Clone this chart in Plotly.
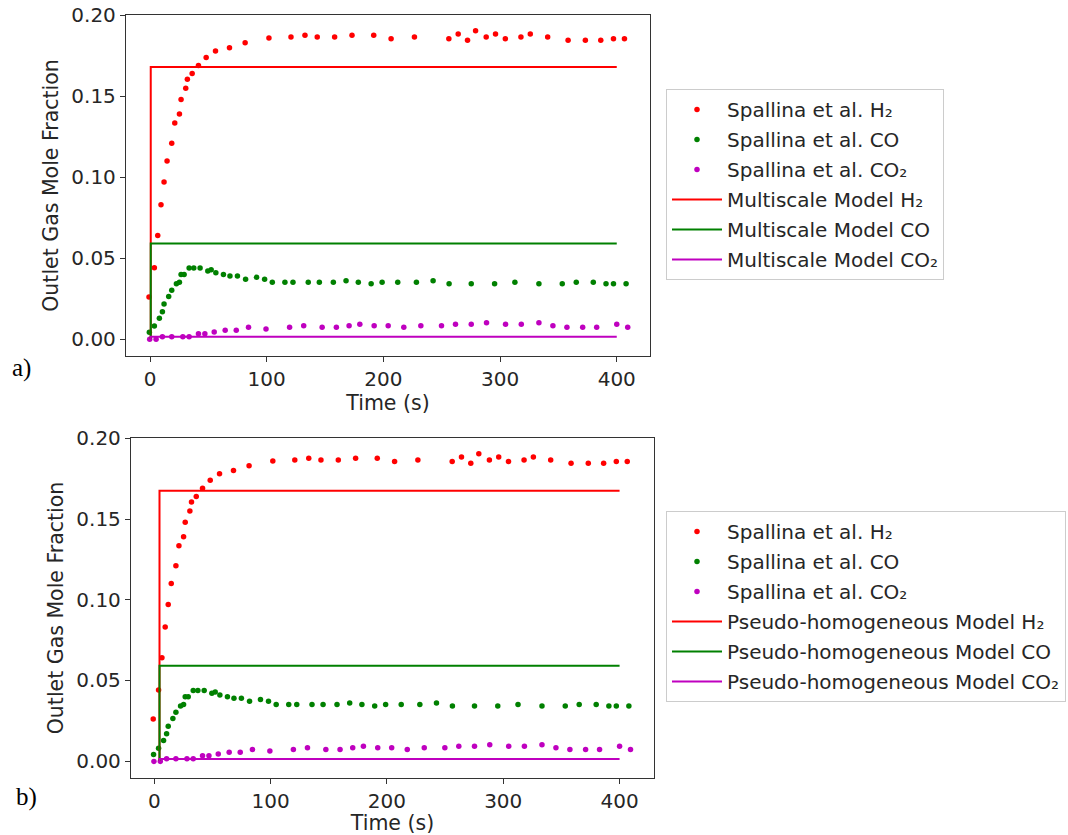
import plotly.graph_objects as go

W, H = 1068, 835

# ---------------- data ----------------
h2_time = [-0.9, 3.7, 6.6, 9.4, 12.0, 14.6, 18.6, 21.2, 25.2, 26.6, 30.6, 32.0, 36.1, 41.5,
           48.1, 56.1, 68.1, 81.5, 101.9, 120.8, 132.8, 143.3, 158.2, 173.1, 191.7, 206.6,
           226.6, 256.1, 264.1, 272.1, 279.0, 288.1, 296.1, 304.5, 317.9, 325.9, 340.8,
           358.3, 373.1, 386.3, 397.2, 406.6]
h2_exp = [0.026, 0.044, 0.064, 0.083, 0.097, 0.110, 0.121, 0.1335, 0.139, 0.148, 0.155,
          0.1605, 0.164, 0.169, 0.174, 0.178, 0.180, 0.183, 0.186, 0.1866, 0.1877, 0.1866,
          0.1866, 0.1877, 0.1877, 0.1856, 0.1866, 0.1856, 0.1885, 0.1846, 0.1905, 0.1866,
          0.1885, 0.1856, 0.1866, 0.1885, 0.1866, 0.1846, 0.1846, 0.1846, 0.1856, 0.1856]

co_time = [-0.6, 3.7, 8.0, 10.6, 12.0, 16.0, 18.6, 22.6, 25.2, 26.6, 29.2, 33.5, 37.5, 42.9,
           49.5, 52.4, 56.4, 62.9, 68.5, 74.9, 81.9, 91.3, 98.2, 104.8, 115.6, 122.5, 135.6,
           145.1, 157.1, 168.0, 178.5, 189.5, 198.9, 212.3, 228.3, 242.6, 256.3, 275.3,
           295.3, 312.7, 333.3, 353.3, 365.3, 379.9, 390.8, 397.2, 408.0]
co_exp = [0.0041, 0.0080, 0.0128, 0.0169, 0.0216, 0.0263, 0.0302, 0.0341, 0.0350, 0.0399,
          0.0399, 0.0438, 0.0438, 0.0438, 0.0420, 0.0428, 0.0409, 0.0399, 0.0389, 0.0389,
          0.0370, 0.0381, 0.0370, 0.0350, 0.0350, 0.0350, 0.0350, 0.0350, 0.0350, 0.0360,
          0.0350, 0.0341, 0.0350, 0.0350, 0.0350, 0.0360, 0.0341, 0.0341, 0.0341, 0.0350,
          0.0341, 0.0341, 0.0350, 0.0350, 0.0341, 0.0341, 0.0341]

co2_time = [-0.3, 5.2, 10.6, 18.6, 28.1, 33.5, 41.5, 47.0, 55.0, 64.4, 73.9, 84.4, 99.4,
            119.6, 131.7, 147.5, 159.7, 170.6, 179.8, 192.1, 204.1, 217.5, 232.1, 249.8,
            261.8, 275.3, 288.4, 304.7, 318.2, 333.3, 345.3, 357.3, 370.8, 382.8, 400.0, 409.4]
co2_exp = [-0.0002, -0.0002, 0.0014, 0.0014, 0.0014, 0.0014, 0.0033, 0.0033, 0.0043, 0.0054,
           0.0054, 0.0072, 0.0062, 0.0072, 0.0082, 0.0072, 0.0072, 0.0082, 0.0091, 0.0082,
           0.0082, 0.0072, 0.0082, 0.0082, 0.0091, 0.0091, 0.0101, 0.0091, 0.0091, 0.0101,
           0.0082, 0.0072, 0.0072, 0.0072, 0.0091, 0.0072]

# model curves (step at start, then constant)
ms_time = [0.6, 0.6, 400]
ms_h2 = [0.0, 0.168, 0.168]
ms_co = [0.0, 0.059, 0.059]
ms_co2 = [0.0, 0.0014, 0.0014]

ph_time = [4.5, 4.5, 400]
ph_h2 = [0.0, 0.1675, 0.1675]
ph_co = [0.0, 0.059, 0.059]
ph_co2 = [0.0, 0.0013, 0.0013]

x_ticks = [0, 100, 200, 300, 400]
y_ticks = [0.00, 0.05, 0.10, 0.15, 0.20]

panel_labels = ["a)", "b)"]
model_names = ["Multiscale Model", "Pseudo-homogeneous Model"]
species = ["H₂", "CO", "CO₂"]

# ---------------- styling ----------------
RED, GREEN, MAG = "#ff0000", "#008000", "#bf00bf"
FONT = "DejaVu Sans"
FS = 20
TXT = "#262626"

fig = go.Figure()

exp_sets = [(h2_time, h2_exp, RED), (co_time, co_exp, GREEN), (co2_time, co2_exp, MAG)]
model_sets = [
    (ms_time, [ms_h2, ms_co, ms_co2]),
    (ph_time, [ph_h2, ph_co, ph_co2]),
]

for p in range(2):
    xa = "x" if p == 0 else "x2"
    ya = "y" if p == 0 else "y2"
    lg = "legend" if p == 0 else "legend2"
    for (t, v, c), sp in zip(exp_sets, species):
        fig.add_trace(go.Scatter(
            x=t, y=v, mode="markers", xaxis=xa, yaxis=ya,
            marker=dict(color=c, size=5.5, line=dict(width=0)),
            name=f"Spallina et al. {sp}", legend=lg,
            legendgroup=f"p{p}-exp-{sp}",
        ))
    mt, mvals = model_sets[p]
    for v, c, sp in zip(mvals, [RED, GREEN, MAG], species):
        fig.add_trace(go.Scatter(
            x=mt, y=v, mode="lines", xaxis=xa, yaxis=ya,
            line=dict(color=c, width=2),
            name=f"{model_names[p]} {sp}", legend=lg,
            legendgroup=f"p{p}-mod-{sp}",
        ))

def xaxis_cfg(domain, rng, anchor):
    return dict(
        domain=domain, range=rng, anchor=anchor,
        tickmode="array", tickvals=x_ticks, ticktext=[str(t) for t in x_ticks],
        ticks="outside", ticklen=5, tickwidth=1.2, tickcolor="#333",
        showline=True, linecolor="#333", linewidth=1.3, mirror=True,
        showgrid=False, zeroline=False, automargin=False,
        tickfont=dict(family=FONT, size=FS, color=TXT),
        title=dict(text="Time (s)", font=dict(family=FONT, size=20.5, color=TXT), standoff=5),
    )

def yaxis_cfg(domain, rng, anchor):
    return dict(
        domain=domain, range=rng, anchor=anchor,
        tickmode="array", tickvals=y_ticks, ticktext=[f"{t:.2f}" for t in y_ticks],
        ticks="outside", ticklen=5, tickwidth=1.2, tickcolor="#333",
        showline=True, linecolor="#333", linewidth=1.3, mirror=True,
        showgrid=False, zeroline=False, automargin=False,
        tickfont=dict(family=FONT, size=FS, color=TXT),
        title=dict(text="Outlet Gas Mole Fraction", font=dict(family=FONT, size=20.5, color=TXT), standoff=7),
    )

def px_x(v):
    return v / W

def px_y(v):
    return 1 - v / H

legend_common = dict(
    font=dict(family=FONT, size=FS, color=TXT),
    bgcolor="white", bordercolor="#cccccc", borderwidth=1,
    xanchor="left", yanchor="top", tracegroupgap=1, itemwidth=50,
)

fig.update_layout(
    width=W, height=H,
    margin=dict(l=0, r=0, t=0, b=0),
    paper_bgcolor="white", plot_bgcolor="white",
    xaxis=xaxis_cfg([px_x(126), px_x(650)], [-20.6, 428.5], "y"),
    yaxis=yaxis_cfg([px_y(356), px_y(15)], [-0.0105, 0.2002], "x"),
    xaxis2=xaxis_cfg([px_x(131), px_x(654)], [-20.0, 429.6], "y2"),
    yaxis2=yaxis_cfg([px_y(778), px_y(438)], [-0.0105, 0.2002], "x2"),
    legend=dict(x=px_x(666), y=px_y(89), **legend_common),
    legend2=dict(x=px_x(666), y=px_y(511), **legend_common),
    showlegend=True,
    annotations=[
        dict(text=panel_labels[0], x=px_x(22), y=px_y(368), xref="paper", yref="paper",
             xanchor="center", yanchor="middle", showarrow=False,
             font=dict(family="Liberation Serif", size=25, color="black")),
        dict(text=panel_labels[1], x=px_x(26), y=px_y(797), xref="paper", yref="paper",
             xanchor="center", yanchor="middle", showarrow=False,
             font=dict(family="Liberation Serif", size=25, color="black")),
    ],
)

fig.write_html(
    "out.html",
    config={"displayModeBar": False},
    post_script="document.body.style.margin='0';document.body.style.overflow='hidden';",
)
